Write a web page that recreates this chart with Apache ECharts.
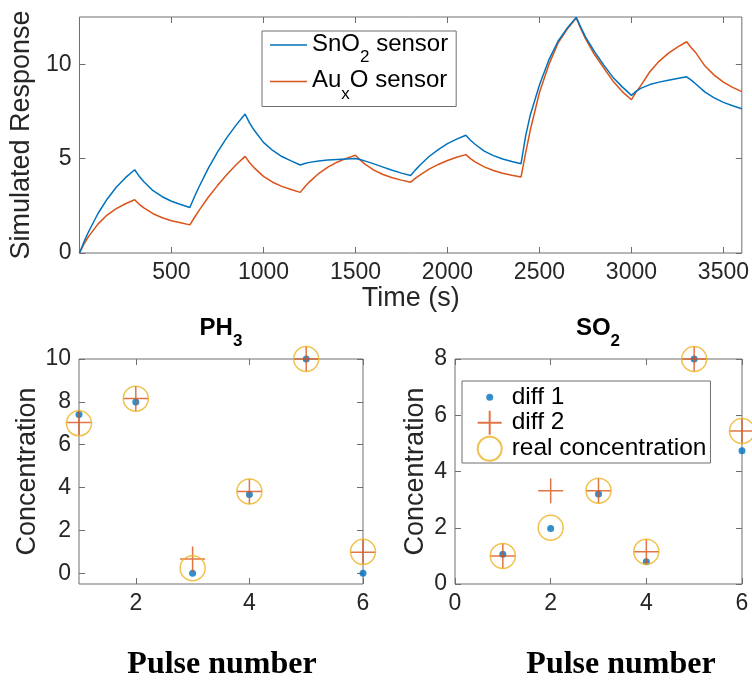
<!DOCTYPE html>
<html>
<head>
<meta charset="utf-8">
<script src="https://cdn.jsdelivr.net/npm/echarts@6/dist/echarts.min.js"></script>
<style>html,body{margin:0;padding:0;background:#fff}#c{width:752px;height:682px}</style>
</head>
<body>
<div id="c"></div>
<script>
// ---- data ----
const timeS = [0,25,50,100,150,200,250,300,325,350,400,450,500,550,600,625,650,700,750,800,850,900,925,950,1000,1050,1100,1150,1200,1225,1250,1300,1350,1400,1450,1500,1525,1550,1600,1650,1700,1750,1800,1825,1850,1900,1950,2000,2050,2100,2125,2150,2200,2250,2300,2350,2400,2425,2450,2500,2550,2600,2650,2700,2725,2750,2800,2850,2900,2950,3000,3025,3050,3100,3150,3200,3250,3300,3325,3350,3400,3450,3500,3550,3600];
const sno2Response = [0,0.60,1.14,2.08,2.85,3.48,3.99,4.41,4.06,3.77,3.30,2.98,2.74,2.57,2.41,2.98,3.51,4.48,5.34,6.10,6.76,7.36,6.88,6.50,5.86,5.43,5.11,4.88,4.66,4.74,4.80,4.87,4.92,4.95,4.98,5.00,4.95,4.88,4.72,4.55,4.38,4.23,4.10,4.39,4.65,5.11,5.48,5.79,6.03,6.24,5.97,5.76,5.40,5.16,4.98,4.85,4.73,6.20,7.30,8.90,10.20,11.20,11.90,12.48,11.95,11.45,10.65,9.95,9.30,8.80,8.35,8.56,8.72,8.92,9.05,9.15,9.24,9.33,9.16,8.95,8.52,8.22,7.98,7.80,7.64];
const auxoResponse = [0,0.48,0.88,1.53,2.01,2.35,2.61,2.82,2.58,2.39,2.08,1.87,1.71,1.60,1.49,1.88,2.26,2.95,3.57,4.15,4.66,5.12,4.78,4.51,4.06,3.75,3.53,3.36,3.21,3.51,3.77,4.21,4.55,4.81,5.01,5.18,4.93,4.72,4.39,4.16,3.99,3.86,3.75,3.95,4.13,4.44,4.69,4.90,5.07,5.21,5.00,4.83,4.56,4.37,4.22,4.12,4.03,5.30,6.50,8.50,9.95,11.10,11.85,12.45,11.88,11.35,10.50,9.80,9.10,8.55,8.12,8.52,8.85,9.60,10.15,10.57,10.90,11.19,10.87,10.60,9.90,9.42,9.05,8.77,8.55];

const pulses = [1,2,3,4,5,6];
const ph3Diff1 = [7.41,7.99,0.0,3.68,10.0,0.0];
const ph3Diff2 = [7.04,8.16,0.67,3.82,10.0,0.98];
const ph3Real  = [7.0,8.15,0.24,3.82,10.0,1.0];
const so2Diff1 = [1.06,1.97,3.2,0.79,8.0,4.74];
const so2Diff2 = [1.0,3.32,3.32,1.15,8.0,5.44];
const so2Real  = [1.0,2.0,3.32,1.15,8.0,5.44];

const topXTicks = [500,1000,1500,2000,2500,3000,3500];
const topYTicks = [0,5,10];
const ph3XTicks = [2,4,6];
const ph3YTicks = [0,2,4,6,8,10];
const so2XTicks = [0,2,4,6];
const so2YTicks = [0,2,4,6,8];

// ---- styling ----
const FRAME = '#6e6e6e', TXT = '#262626';
const BLUE = '#0072BD', ORANGE = '#D95319', YELLOW = '#EDB120';
const FONT = 'Liberation Sans';

function axis(type, grid, pos, min, max, ticks, labels, name, nameGap) {
  const a = {
    type: 'value', gridIndex: grid, position: pos, min: min, max: max,
    splitLine: {show: false},
    axisLine: {show: false, onZero: false},
    axisTick: {show: true, inside: true, length: 6, customValues: ticks, lineStyle: {color: FRAME, width: 1}},
    axisLabel: {show: labels, customValues: ticks, margin: 8, fontSize: 23, color: TXT, fontFamily: FONT,
                formatter: v => String(v)}
  };
  if (name) {
    a.name = name; a.nameLocation = 'middle'; a.nameGap = nameGap;
    a.nameTextStyle = {fontSize: 27, color: TXT, fontFamily: FONT};
  }
  return a;
}
const pairs = (xs, ys) => xs.map((x, i) => [x, ys[i]]);

const plusPath = 'path://M12,0 L12,24 M0,12 L24,12';
const dotIcon = 'path://M0,0 M24,24 M8.5,12 A3.5,3.5 0 1,1 15.5,12 A3.5,3.5 0 1,1 8.5,12 Z';

function scatterSet(xIdx, yIdx, d1, d2, real) {
  return [
    {type: 'scatter', name: 'diff 1', xAxisIndex: xIdx, yAxisIndex: yIdx, data: pairs(pulses, d1),
     symbol: 'circle', symbolSize: 7, itemStyle: {color: BLUE}, z: 3},
    {type: 'scatter', name: 'diff 2', xAxisIndex: xIdx, yAxisIndex: yIdx, data: pairs(pulses, d2),
     symbol: plusPath, symbolSize: 25, itemStyle: {color: 'rgba(0,0,0,0)', borderColor: ORANGE, borderWidth: 1.5}, z: 4},
    {type: 'scatter', name: 'real concentration', xAxisIndex: xIdx, yAxisIndex: yIdx, data: pairs(pulses, real),
     symbol: 'circle', symbolSize: 25, itemStyle: {color: 'rgba(0,0,0,0)', borderColor: YELLOW, borderWidth: 1.5}, z: 5}
  ];
}

const legRich = {
  m: {fontSize: 24, lineHeight: 26, verticalAlign: 'top', color: '#000', fontFamily: FONT},
  s: {fontSize: 17, lineHeight: 17, verticalAlign: 'top', color: '#000', fontFamily: FONT, padding: [17, 0, 0, 0]}
};
const titleRich = {
  m: {fontSize: 24, fontWeight: 'bold', lineHeight: 26, verticalAlign: 'top', color: '#000', fontFamily: FONT},
  s: {fontSize: 17, fontWeight: 'bold', lineHeight: 17, verticalAlign: 'top', color: '#000', fontFamily: FONT, padding: [17, 0, 0, 0]}
};

const option = {
  animation: false,
  backgroundColor: '#fff',
  textStyle: {fontFamily: FONT},
  grid: [
    {left: 79, top: 17, width: 663, height: 236, show: true, borderColor: FRAME, borderWidth: 1, backgroundColor: 'transparent'},
    {left: 79, top: 359, width: 284, height: 225, show: true, borderColor: FRAME, borderWidth: 1, backgroundColor: 'transparent'},
    {left: 455, top: 359, width: 287, height: 225, show: true, borderColor: FRAME, borderWidth: 1, backgroundColor: 'transparent'}
  ],
  xAxis: [
    axis('x', 0, 'bottom', 0, 3600, topXTicks, true, 'Time (s)', 30),
    axis('x', 0, 'top', 0, 3600, topXTicks, false),
    axis('x', 1, 'bottom', 1, 6, ph3XTicks, true),
    axis('x', 1, 'top', 1, 6, ph3XTicks, false),
    axis('x', 2, 'bottom', 0, 6, so2XTicks, true),
    axis('x', 2, 'top', 0, 6, so2XTicks, false)
  ],
  yAxis: [
    axis('y', 0, 'left', 0, 12.5, topYTicks, true, 'Simulated Response', 38),
    axis('y', 0, 'right', 0, 12.5, topYTicks, false),
    axis('y', 1, 'left', -0.5, 10, ph3YTicks, true, 'Concentration', 38),
    axis('y', 1, 'right', -0.5, 10, ph3YTicks, false),
    axis('y', 2, 'left', 0, 8, so2YTicks, true, 'Concentration', 26),
    axis('y', 2, 'right', 0, 8, so2YTicks, false)
  ],
  legend: [
    {
      left: 262, top: 31, orient: 'vertical',
      data: ['SnO2 sensor', 'AuxO sensor'],
      formatter: n => n === 'SnO2 sensor' ? '{m|SnO}{s|2}{m| sensor}' : '{m|Au}{s|x}{m|O sensor}',
      icon: 'rect', itemWidth: 37, itemHeight: 1.5, itemGap: 2.5,
      padding: [1, 8, 4, 8], borderColor: FRAME, borderWidth: 1, backgroundColor: '#fff',
      textStyle: {rich: legRich}
    },
    {
      left: 462, top: 381, orient: 'vertical',
      data: [{name: 'diff 1', icon: dotIcon}, {name: 'diff 2'}, {name: 'real concentration'}],
      itemWidth: 24, itemHeight: 24, itemGap: 0,
      padding: [3.7, 4, 1.3, 14.7], borderColor: FRAME, borderWidth: 1, backgroundColor: '#fff',
      textStyle: {fontSize: 24.5, lineHeight: 24, color: '#000', fontFamily: FONT, padding: [0, 0, 0, 5]}
    }
  ],
  series: [
    {type: 'line', name: 'SnO2 sensor', xAxisIndex: 0, yAxisIndex: 0, data: pairs(timeS, sno2Response),
     showSymbol: false, symbol: 'none', lineStyle: {color: BLUE, width: 1.5}, itemStyle: {color: BLUE}, z: 3},
    {type: 'line', name: 'AuxO sensor', xAxisIndex: 0, yAxisIndex: 0, data: pairs(timeS, auxoResponse),
     showSymbol: false, symbol: 'none', lineStyle: {color: ORANGE, width: 1.5}, itemStyle: {color: ORANGE}, z: 2}
  ].concat(scatterSet(2, 2, ph3Diff1, ph3Diff2, ph3Real))
   .concat(scatterSet(4, 4, so2Diff1, so2Diff2, so2Real)),
  graphic: [
    {type: 'text', x: 221, y: 329, style: {text: '{m|PH}{s|3}', rich: titleRich, align: 'center', verticalAlign: 'middle'}},
    {type: 'text', x: 598, y: 329, style: {text: '{m|SO}{s|2}', rich: titleRich, align: 'center', verticalAlign: 'middle'}},
    {type: 'text', x: 222, y: 665, style: {text: 'Pulse number', font: 'bold 32px "Liberation Serif"', fill: '#000', align: 'center', verticalAlign: 'middle'}},
    {type: 'text', x: 621, y: 665, style: {text: 'Pulse number', font: 'bold 32px "Liberation Serif"', fill: '#000', align: 'center', verticalAlign: 'middle'}}
  ]
};

const chart = echarts.init(document.getElementById('c'), null, {renderer: 'canvas'});
chart.setOption(option);
</script>
</body>
</html>
